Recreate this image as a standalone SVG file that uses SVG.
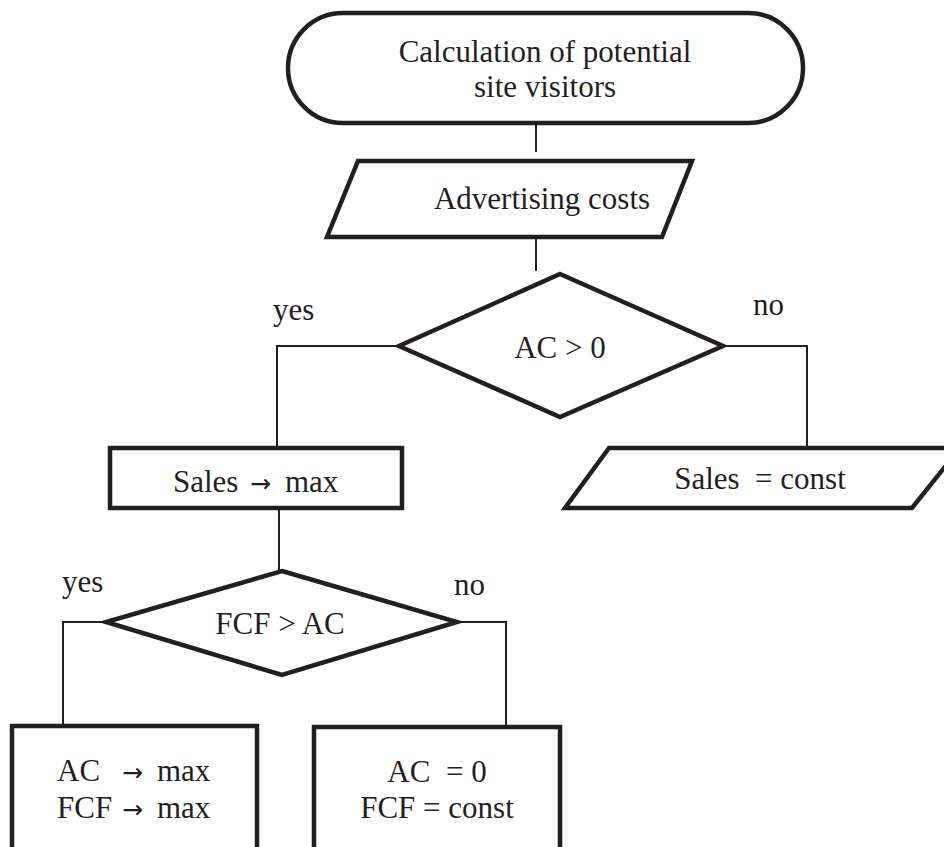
<svg xmlns="http://www.w3.org/2000/svg" width="944" height="847" viewBox="0 0 944 847">
<style>
.shape{fill:#fff;stroke:#231f20;stroke-width:4.5;stroke-linejoin:miter}
.conn{fill:none;stroke:#231f20;stroke-width:2}
text{font-family:"Liberation Serif","Times New Roman",serif;font-size:31px;fill:#231f20}
.c{text-anchor:middle}
.arr{font-family:"DejaVu Sans",sans-serif;font-size:25px}
</style>
<rect width="944" height="847" fill="#fff"/>
<g id="connectors">
<path class="conn" d="M536,124 V152"/>
<path class="conn" d="M536,237 V271"/>
<path class="conn" d="M399,346 H277 V448"/>
<path class="conn" d="M723,346 H807 V448"/>
<path class="conn" d="M279,508 V572"/>
<path class="conn" d="M106,622 H63 V727"/>
<path class="conn" d="M457,622 H506 V728"/>
</g>
<g id="start">
<rect class="shape" x="288" y="13" width="515" height="110" rx="55" ry="55"/>
<text class="c" x="545" y="62">Calculation of potential</text>
<text class="c" x="545" y="97">site visitors</text>
</g>
<g id="advertising">
<polygon class="shape" points="358,161 692,161 662,237 327,237"/>
<text class="c" x="542" y="209">Advertising costs</text>
</g>
<g id="decision1">
<polygon class="shape" points="560,274 723,346 560,417 399,346"/>
<text class="c" x="560" y="358">AC &gt; 0</text>
<text x="273" y="320">yes</text>
<text x="753" y="315">no</text>
</g>
<g id="sales-max">
<rect class="shape" x="110" y="448" width="292" height="60"/>
<text y="492"><tspan x="173">Sales</tspan><tspan class="arr" x="250">→</tspan><tspan x="285">max</tspan></text>
</g>
<g id="sales-const">
<polygon class="shape" points="609,448 960,448 912,508 565,508"/>
<text class="c" x="760" y="489" xml:space="preserve">Sales  = const</text>
</g>
<g id="decision2">
<polygon class="shape" points="282,571 457,622 282,675 106,622"/>
<text class="c" x="280" y="634">FCF &gt; AC</text>
<text x="62" y="592">yes</text>
<text x="454" y="595">no</text>
</g>
<g id="max-box">
<rect class="shape" x="12" y="726" width="245" height="140"/>
<text y="781"><tspan x="57">AC</tspan><tspan class="arr" x="122">→</tspan><tspan x="157">max</tspan></text>
<text y="818"><tspan x="57">FCF</tspan><tspan class="arr" x="122">→</tspan><tspan x="157">max</tspan></text>
</g>
<g id="const-box">
<rect class="shape" x="314" y="727" width="246" height="140"/>
<text class="c" x="437" y="782" xml:space="preserve">AC  = 0</text>
<text class="c" x="437" y="818">FCF = const</text>
</g>
</svg>
